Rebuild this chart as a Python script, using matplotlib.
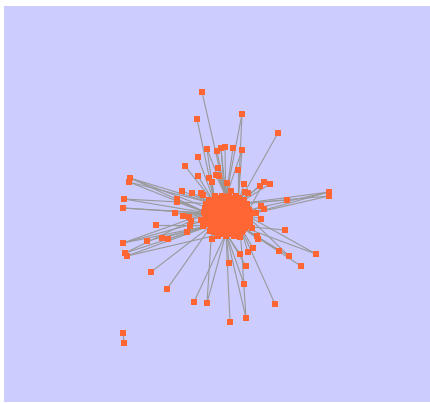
import numpy as np
import matplotlib.pyplot as plt

# -------------------------
# Datos del grafo (coordenadas leídas en píxeles de la imagen)
# -------------------------

# núcleo denso
core_x = [215, 222, 229, 236,
          209, 216, 223, 230, 237, 244,
          206, 213, 220, 227, 234, 241, 247,
          205, 212, 219, 226, 233, 240, 247,
          204, 211, 218, 225, 232, 239, 246, 250,
          205, 212, 219, 226, 233, 240, 247, 250,
          206, 213, 220, 227, 234, 241, 248,
          208, 215, 222, 229, 236, 243, 248,
          211, 218, 225, 232, 239, 245,
          214, 221, 228, 235, 242,
          218, 226, 234,
          203, 252, 201, 212, 240, 231,
          # filas intercaladas
          218, 225, 232, 239,
          212, 219, 226, 233, 240,
          209, 216, 223, 230, 237, 244,
          208, 215, 222, 229, 236, 243, 249,
          207, 214, 221, 228, 235, 242, 249,
          207, 214, 221, 228, 235, 242, 249,
          209, 216, 223, 230, 237, 244, 250,
          212, 219, 226, 233, 240, 246,
          216, 223, 230, 237, 243,
          221, 229, 237, 210, 203]
core_y = [197, 197, 197, 197,
          201, 201, 201, 201, 201, 201,
          205, 205, 205, 205, 205, 205, 205,
          209, 209, 209, 209, 209, 209, 209,
          213, 213, 213, 213, 213, 213, 213, 213,
          217, 217, 217, 217, 217, 217, 217, 217,
          221, 221, 221, 221, 221, 221, 221,
          225, 225, 225, 225, 225, 225, 225,
          229, 229, 229, 229, 229, 229,
          233, 233, 233, 233, 233,
          237, 237, 237,
          196, 229, 221, 240, 238, 192,
          199, 199, 199, 199,
          203, 203, 203, 203, 203,
          207, 207, 207, 207, 207, 207,
          211, 211, 211, 211, 211, 211, 211,
          215, 215, 215, 215, 215, 215, 215,
          219, 219, 219, 219, 219, 219, 219,
          223, 223, 223, 223, 223, 223, 223,
          227, 227, 227, 227, 227, 227,
          231, 231, 231, 231, 231,
          235, 235, 235, 232, 227]

# nodos "hub" dentro del núcleo (a donde llegan las aristas externas)
hub_x = [226, 215, 238, 212, 240, 226, 226, 207, 246]
hub_y = [216, 205, 205, 226, 227, 234, 198, 214, 216]

# nodos periféricos y el hub al que se conectan
outer_x = [202, 242, 197, 278, 207, 217, 221, 225, 233, 242,
           198, 185, 218, 238, 198, 216, 219, 209, 212, 227,
           244, 264, 270, 260, 130, 129, 182, 192, 201, 248,
           245, 329, 329, 287, 124, 123, 177, 177, 175, 261,
           264, 256, 261, 183, 189, 191, 156, 285, 187, 190,
           123, 147, 162, 168, 125, 127, 258, 257, 253, 248,
           240, 279, 289, 316, 301, 229, 246, 151, 244, 167,
           194, 207, 275, 230, 246]
outer_y = [93, 115, 120, 134, 150, 152, 149, 148, 149, 151,
           158, 167, 169, 171, 177, 176, 177, 179, 183, 184,
           185, 183, 185, 187, 179, 183, 192, 194, 194, 194,
           193, 193, 197, 201, 200, 209, 200, 203, 214, 207,
           210, 214, 220, 217, 218, 222, 226, 231, 233, 227,
           244, 242, 239, 240, 254, 257, 240, 237, 249, 253,
           255, 252, 257, 255, 267, 264, 267, 273, 285, 290,
           303, 304, 305, 323, 319]
outer_hub = [[6], [6, 2], [1], [2], [1, 6], [6], [6, 0], [0], [6], [2, 6],
             [1], [1], [6], [2], [1], [6], [6], [1], [1], [0],
             [2], [2, 8], [2], [2], [1, 0, 7], [1, 7], [1], [1], [1], [2],
             [2], [2, 0, 8], [2, 8], [2], [7, 1], [7, 0], [7], [7], [7], [8],
             [8], [8], [8], [7], [7], [3], [3], [4], [3], [3],
             [3, 7, 0], [3], [3], [3], [3, 7], [3, 5], [4], [4], [4], [4],
             [5], [4], [4, 8], [4, 8], [4], [5], [5], [3], [5], [3],
             [5], [5, 3], [4], [5], [5, 4]]

# aristas internas del núcleo (pares de índices de hubs)
hub_edges = [(0, 1), (0, 2), (0, 3), (0, 4), (0, 5), (0, 6), (0, 7), (0, 8),
             (1, 2), (1, 7), (2, 8), (3, 5), (4, 8), (3, 7), (4, 5), (1, 6), (2, 6)]

# componente aislada
pair_x = [123, 124]
pair_y = [334, 344]

BG = "#ccccff"
NODE = "#ff6633"
EDGE = "#999999"


fig = plt.figure(figsize=(4.31, 4.03), dpi=100)
ax = fig.add_axes([4 / 431, 1 / 403, 427 / 431, 396 / 403])
ax.set_facecolor(BG)

# aristas
for i, hubs in enumerate(outer_hub):
    for h in hubs:
        ax.plot([outer_x[i], hub_x[h]], [outer_y[i], hub_y[h]],
                color=EDGE, lw=0.8, zorder=1)
for a, b in hub_edges:
    ax.plot([hub_x[a], hub_x[b]], [hub_y[a], hub_y[b]], color=EDGE, lw=0.8, zorder=1)
ax.plot(pair_x, pair_y, color=EDGE, lw=0.8, zorder=1)

# nodos
ms = 4.0
ax.plot(core_x, core_y, "s", color=NODE, ms=ms, mew=0, ls="none", zorder=2)
ax.plot(hub_x, hub_y, "s", color=NODE, ms=ms, mew=0, ls="none", zorder=2)
ax.plot(outer_x, outer_y, "s", color=NODE, ms=ms, mew=0, ls="none", zorder=2)
ax.plot(pair_x, pair_y, "s", color=NODE, ms=ms, mew=0, ls="none", zorder=2)

ax.set_xlim(4, 431)
ax.set_ylim(403, 7)
ax.set_xticks([])
ax.set_yticks([])
for s in ax.spines.values():
    s.set_visible(False)

fig.savefig("out.png", dpi=100, facecolor="white")
